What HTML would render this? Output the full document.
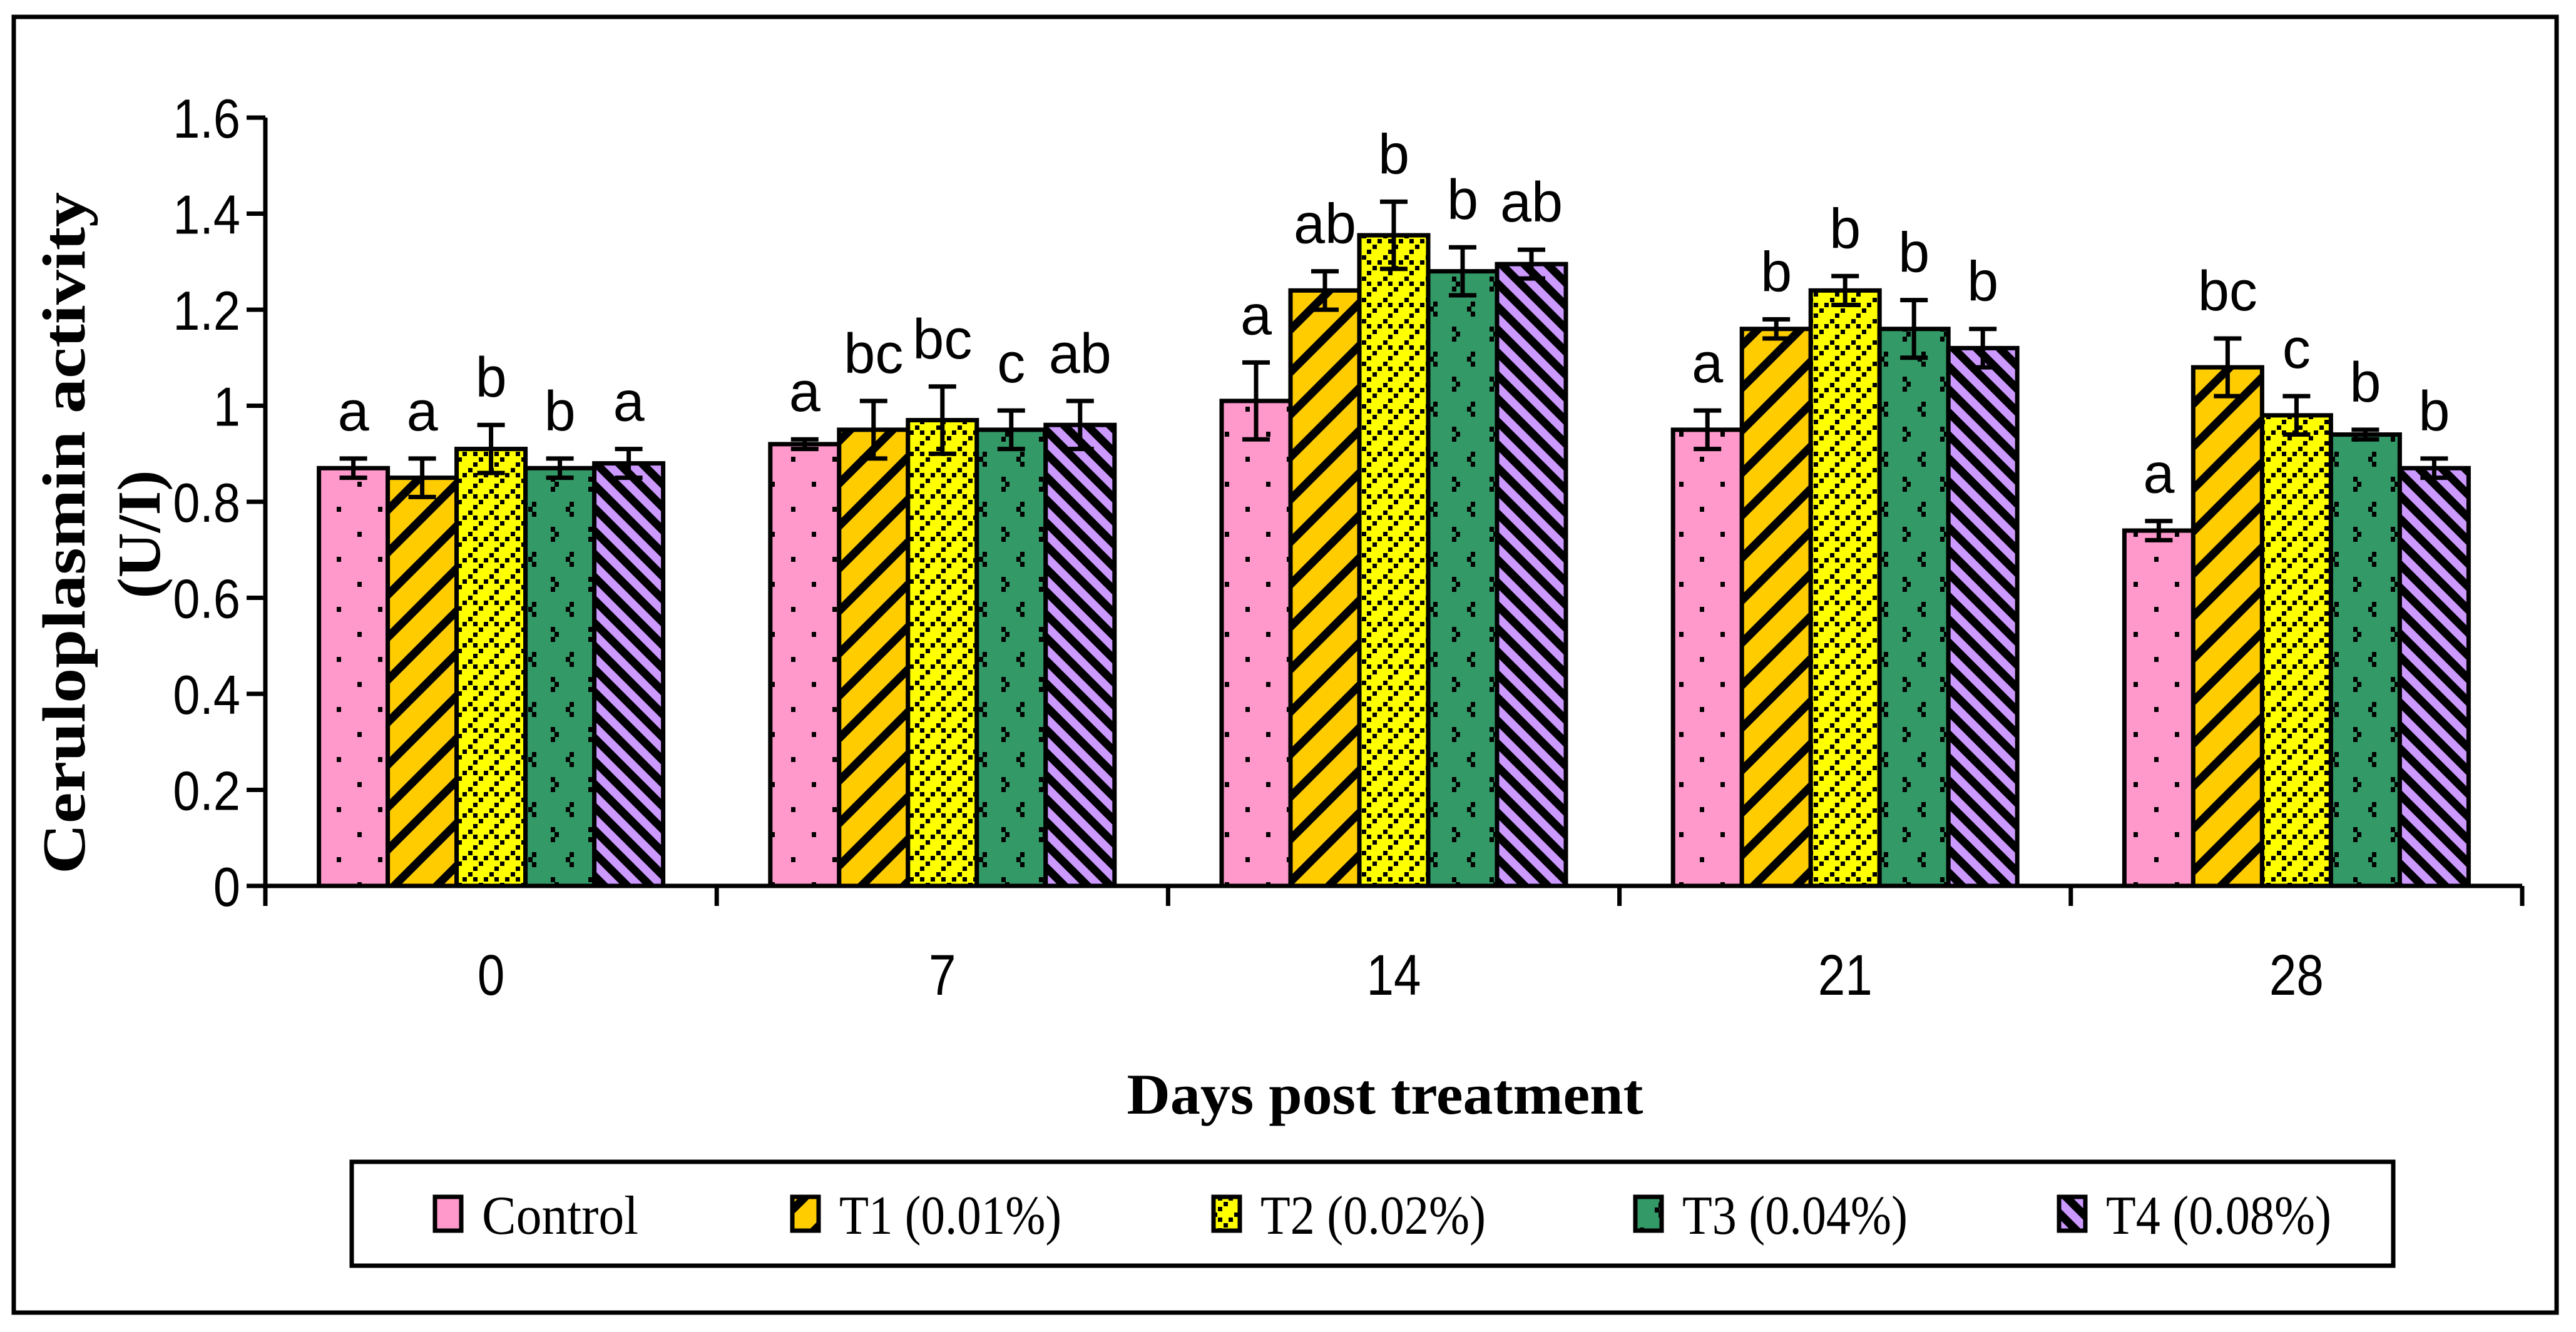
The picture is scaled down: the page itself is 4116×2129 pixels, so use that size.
<!DOCTYPE html>
<html><head><meta charset="utf-8"><style>
html,body{margin:0;padding:0;background:#fff;}
svg{display:block;}
</style></head><body>
<svg id="chart" width="4116" height="2129" viewBox="0 0 4116 2129" xmlns="http://www.w3.org/2000/svg">
<defs>
  <pattern id="pDots" patternUnits="userSpaceOnUse" width="66" height="80">
    <rect width="66" height="80" fill="#FF99CC"/>
    <rect x="10" y="10" width="7" height="8" fill="#000"/>
    <rect x="43" y="50" width="7" height="8" fill="#000"/>
  </pattern>
  <pattern id="pT1" patternUnits="userSpaceOnUse" width="48" height="48" patternTransform="rotate(-45)">
    <rect width="48" height="48" fill="#FFCC00"/>
    <rect x="0" y="0" width="48" height="13" fill="#000"/>
  </pattern>
  <pattern id="pT2" patternUnits="userSpaceOnUse" width="34" height="34">
    <rect width="34" height="34" fill="#FFFF00"/>
    <rect x="0" y="0" width="7" height="7" fill="#000"/>
    <rect x="8" y="8" width="7" height="7" fill="#000"/>
    <rect x="25" y="8" width="7" height="7" fill="#000"/>
    <rect x="17" y="17" width="7" height="7" fill="#000"/>
    <rect x="8" y="25" width="7" height="7" fill="#000"/>
  </pattern>
  <pattern id="pT3" patternUnits="userSpaceOnUse" width="60" height="80">
    <rect width="60" height="80" fill="#339966"/>
    <rect x="10" y="2" width="7" height="8" fill="#000"/>
    <rect x="4" y="10" width="7" height="8" fill="#000"/>
    <rect x="10" y="18" width="7" height="8" fill="#000"/>
    <rect x="40" y="42" width="7" height="8" fill="#000"/>
    <rect x="46" y="50" width="7" height="8" fill="#000"/>
    <rect x="40" y="58" width="7" height="8" fill="#000"/>
  </pattern>
  <pattern id="pT4" patternUnits="userSpaceOnUse" width="26" height="26" patternTransform="rotate(45)">
    <rect width="26" height="26" fill="#CC99FF"/>
    <rect x="0" y="0" width="26" height="13" fill="#000"/>
  </pattern>
</defs>
<rect x="22" y="27" width="4063" height="2071" fill="none" stroke="#000" stroke-width="7"/>
<g id="plot"></g>
<text transform="translate(135,852) rotate(-90)" text-anchor="middle" font-family="Liberation Serif, serif" font-weight="bold" font-size="98" textLength="1090" lengthAdjust="spacingAndGlyphs">Ceruloplasmin activity</text>
<text transform="translate(255,854) rotate(-90)" text-anchor="middle" font-family="Liberation Serif, serif" font-weight="bold" font-size="98" textLength="205" lengthAdjust="spacingAndGlyphs">(U/I)</text>
<text x="2213" y="1780" text-anchor="middle" font-family="Liberation Serif, serif" font-weight="bold" font-size="92" textLength="825" lengthAdjust="spacingAndGlyphs">Days post treatment</text>
<rect x="562" y="1857" width="3262" height="166" fill="#fff" stroke="#000" stroke-width="7"/>
<g id="legend"></g>
</svg>
<script>
const categories = ["0", "7", "14", "21", "28"];
const seriesNames = ["Control", "T1 (0.01%)", "T2 (0.02%)", "T3 (0.04%)", "T4 (0.08%)"];
const controlVals = [0.87, 0.92, 1.01, 0.95, 0.74];
const t1Vals = [0.85, 0.95, 1.24, 1.16, 1.08];
const t2Vals = [0.91, 0.97, 1.355, 1.24, 0.98];
const t3Vals = [0.87, 0.95, 1.28, 1.16, 0.94];
const t4Vals = [0.88, 0.96, 1.295, 1.12, 0.87];
const controlErr = [0.02, 0.01, 0.08, 0.04, 0.02];
const t1Err = [0.04, 0.06, 0.04, 0.02, 0.06];
const t2Err = [0.05, 0.07, 0.07, 0.03, 0.04];
const t3Err = [0.02, 0.04, 0.05, 0.06, 0.01];
const t4Err = [0.03, 0.05, 0.03, 0.04, 0.02];
const controlLetters = ["a", "a", "a", "a", "a"];
const t1Letters = ["a", "bc", "ab", "b", "bc"];
const t2Letters = ["b", "bc", "b", "b", "c"];
const t3Letters = ["b", "c", "b", "b", "b"];
const t4Letters = ["a", "ab", "ab", "b", "b"];
const yTicks = [0, 0.2, 0.4, 0.6, 0.8, 1, 1.2, 1.4, 1.6];
const yTickLabels = ["0", "0.2", "0.4", "0.6", "0.8", "1", "1.2", "1.4", "1.6"];

const series = [controlVals, t1Vals, t2Vals, t3Vals, t4Vals];
const errs = [controlErr, t1Err, t2Err, t3Err, t4Err];
const letters = [controlLetters, t1Letters, t2Letters, t3Letters, t4Letters];
const fills = ["url(#pDots)", "url(#pT1)", "url(#pT2)", "url(#pT3)", "url(#pT4)"];
const NS = "http://www.w3.org/2000/svg";
const X0 = 424, X1 = 4030, Y0 = 1416, Y1 = 188, YMAX = 1.6;
const catW = (X1 - X0) / categories.length;
const barW = 110;
function yScale(v) { return Y0 - (v / YMAX) * (Y0 - Y1); }
function xCat(i) { return X0 + catW * (i + 0.5); }
function mk(tag, attrs, parent) {
  const el = document.createElementNS(NS, tag);
  for (const k in attrs) el.setAttribute(k, attrs[k]);
  parent.appendChild(el);
  return el;
}
const plot = document.getElementById('plot');

// bars
series.forEach((vals, s) => {
  vals.forEach((v, i) => {
    const x = xCat(i) - 2.5 * barW + s * barW;
    const r = mk('rect', {x: x, y: yScale(v), width: barW, height: Y0 - yScale(v), fill: fills[s], stroke: '#000', 'stroke-width': 7}, plot);
    
    
  });
});
// error bars + letters
series.forEach((vals, s) => {
  vals.forEach((v, i) => {
    const cx = xCat(i) - 2 * barW + s * barW;
    const e = errs[s][i];
    const yt = yScale(v + e), yb = yScale(v - e);
    const g = mk('g', {stroke: '#000', 'stroke-width': 7}, plot);
    
    
    mk('line', {x1: cx, x2: cx, y1: yt, y2: yb}, g);
    mk('line', {x1: cx - 22, x2: cx + 22, y1: yt, y2: yt}, g);
    mk('line', {x1: cx - 22, x2: cx + 22, y1: yb, y2: yb}, g);
    const t = mk('text', {x: cx, y: yt - 45, 'text-anchor': 'middle', 'font-family': 'Liberation Sans, sans-serif', 'font-size': 90}, plot);
    
    
    t.textContent = letters[s][i];
  });
});
// axes
const ax = mk('g', {stroke: '#000', 'stroke-width': 7}, plot);


mk('line', {x1: X0, x2: X0, y1: Y1, y2: Y0 + 3}, ax);
mk('line', {x1: X0 - 3, x2: X1, y1: Y0, y2: Y0}, ax);
yTicks.forEach((v, k) => {
  const y = yScale(v);
  mk('line', {x1: X0 - 30, x2: X0, y1: y, y2: y}, ax);
  const t = mk('text', {transform: 'translate(' + (X0 - 40) + ',' + (y + 32) + ') scale(0.88,1)', 'text-anchor': 'end', 'font-family': 'Liberation Sans, sans-serif', 'font-size': 88}, plot);
  
  
  t.textContent = yTickLabels[k];
});
for (let i = 0; i <= categories.length; i++) {
  const x = X0 + catW * i;
  mk('line', {x1: x, x2: x, y1: Y0, y2: Y0 + 32}, ax);
}
categories.forEach((c, i) => {
  const t = mk('text', {transform: 'translate(' + xCat(i) + ',1590) scale(0.85,1)', 'text-anchor': 'middle', 'font-family': 'Liberation Sans, sans-serif', 'font-size': 92}, plot);
  
  
  t.textContent = c;
});
// legend
const lg = document.getElementById('legend');
const legX = [695, 1266, 1939, 2613, 3290];
const legW = [250, 355, 360, 360, 360];
seriesNames.forEach((n, s) => {
  const g = mk('g', {}, lg);
  
  
  mk('rect', {x: legX[s], y: 1913, width: 42, height: 54, fill: fills[s], stroke: '#000', 'stroke-width': 7}, g);
  const t = mk('text', {x: legX[s] + 75, y: 1972, 'font-family': 'Liberation Serif, serif', 'font-size': 88, textLength: legW[s], lengthAdjust: 'spacingAndGlyphs'}, g);
  t.textContent = n;
});
</script>
</body></html>
